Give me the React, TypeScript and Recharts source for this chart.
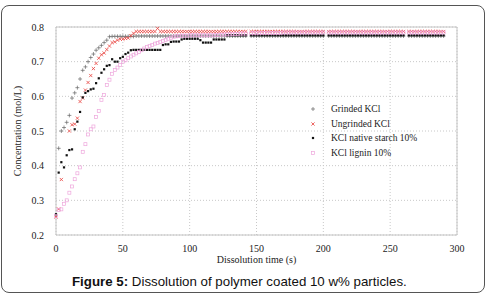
import { ScatterChart, Scatter, XAxis, YAxis, CartesianGrid, ReferenceArea, Legend } from "recharts";

// dissolution time (s), one reading every 2 s
const times = [
  0, 2, 4, 6, 8, 10, 12, 14, 16, 18,
  20, 22, 24, 26, 28, 30, 32, 34, 36, 38,
  40, 42, 44, 46, 48, 50, 52, 54, 56, 58,
  60, 62, 64, 66, 68, 70, 72, 74, 76, 78,
  80, 82, 84, 86, 88, 90, 92, 94, 96, 98,
  100, 102, 104, 106, 108, 110, 112, 114, 116, 118,
  120, 122, 124, 126, 128, 130, 132, 134, 136, 138,
  140, 142, 144, 146, 148, 150, 152, 154, 156, 158,
  160, 162, 164, 166, 168, 170, 172, 174, 176, 178,
  180, 182, 184, 186, 188, 190, 192, 194, 196, 198,
  200, 202, 204, 206, 208, 210, 212, 214, 216, 218,
  220, 222, 224, 226, 228, 230, 232, 234, 236, 238,
  240, 242, 244, 246, 248, 250, 252, 254, 256, 258,
  260, 262, 264, 266, 268, 270, 272, 274, 276, 278,
  280, 282, 284, 286, 288, 290,
];

const grindedKCl = [
  null, 0.45, 0.5, 0.51, 0.525, 0.545, 0.595, 0.61, 0.625, 0.65,
  0.675, 0.685, 0.7, 0.712, 0.722, 0.733, 0.74, 0.747, 0.755, 0.762,
  0.772, 0.773, 0.773, 0.773, 0.773, 0.773, 0.773, 0.773, 0.773, 0.773,
  0.774, 0.774, 0.774, 0.774, 0.774, 0.774, 0.774, 0.774, 0.774, 0.774,
  0.774, 0.774, 0.774, 0.774, 0.774, 0.774, 0.774, 0.774, 0.774, 0.774,
  0.774, 0.774, 0.774, 0.774, 0.774, 0.774, 0.774, 0.774, 0.774, 0.774,
  0.774, 0.774, 0.774, 0.774, 0.774, 0.774, 0.774, 0.774, 0.774, 0.774,
  0.774, 0.774, null, 0.774, 0.774, 0.774, 0.774, 0.774, 0.774, 0.774,
  0.774, 0.774, 0.774, 0.774, 0.774, 0.774, 0.774, 0.774, 0.774, 0.774,
  0.774, 0.774, 0.774, 0.774, 0.774, 0.774, 0.774, 0.774, 0.774, 0.774,
  0.774, null, 0.774, 0.774, 0.774, 0.774, 0.774, 0.774, 0.774, 0.774,
  0.774, 0.774, 0.774, 0.774, 0.774, 0.774, 0.774, 0.774, 0.774, 0.774,
  0.774, 0.774, 0.774, 0.774, 0.774, 0.774, 0.774, 0.774, 0.774, 0.774,
  0.774, null, 0.774, 0.774, 0.774, 0.774, 0.774, 0.774, 0.774, 0.774,
  0.774, 0.774, 0.774, 0.774, 0.774, 0.774,
];

const ungrindedKCl = [
  0.252, 0.275, 0.36, null, null, 0.5, 0.518, 0.52, 0.537, 0.585,
  0.595, 0.618, 0.64, 0.66, 0.68, 0.695, 0.71, 0.72, 0.725, 0.735,
  0.745, 0.755, 0.757, 0.762, 0.765, 0.765, 0.767, 0.768, 0.775, 0.782,
  0.787, 0.787, 0.787, 0.787, 0.787, 0.787, 0.787, 0.787, 0.796, 0.787,
  0.787, 0.787, 0.787, 0.787, 0.787, 0.787, 0.787, 0.787, 0.787, 0.787,
  0.787, 0.787, 0.787, 0.787, 0.787, 0.787, 0.787, 0.787, 0.787, 0.787,
  0.787, 0.787, 0.787, 0.787, 0.787, 0.787, 0.787, 0.787, 0.787, 0.787,
  0.787, 0.787, null, 0.787, 0.787, 0.787, 0.787, 0.787, 0.787, 0.787,
  0.787, 0.787, 0.787, 0.787, 0.787, 0.787, 0.787, 0.787, 0.787, 0.787,
  0.787, 0.787, 0.787, 0.787, 0.787, 0.787, 0.787, 0.787, 0.787, 0.787,
  0.787, null, 0.787, 0.787, 0.787, 0.787, 0.787, 0.787, 0.787, 0.787,
  0.787, 0.787, 0.787, 0.787, 0.787, 0.787, 0.787, 0.787, 0.787, 0.787,
  0.787, 0.787, 0.787, 0.787, 0.787, 0.787, 0.787, 0.787, 0.787, 0.787,
  0.787, null, 0.787, 0.787, 0.787, 0.787, 0.787, 0.787, 0.787, 0.787,
  0.787, 0.787, 0.787, 0.787, 0.787, 0.787,
];

const nativeStarch = [
  0.26, 0.38, 0.41, 0.395, 0.43, 0.445, 0.447, 0.505, 0.527, 0.555,
  0.597, 0.61, 0.615, 0.62, 0.622, 0.638, 0.652, 0.668, 0.678, 0.688,
  0.69, 0.707, 0.7, 0.7, 0.71, 0.714, 0.722, 0.726, 0.733, 0.734,
  0.734, 0.734, 0.734, 0.734, 0.734, 0.734, 0.734, 0.734, 0.734, 0.734,
  0.748, 0.75, 0.75, 0.757, 0.758, 0.758, 0.758, 0.764, 0.766, 0.766,
  0.766, 0.766, 0.766, 0.766, 0.762, 0.755, 0.755, 0.755, 0.755, 0.764,
  0.764, 0.764, 0.764, 0.764, 0.776, 0.776, 0.776, 0.776, 0.776, 0.776,
  0.776, 0.776, null, 0.776, 0.776, 0.776, 0.776, 0.776, 0.776, 0.776,
  0.776, 0.776, 0.776, 0.776, 0.776, 0.776, 0.776, 0.776, 0.776, 0.776,
  0.776, 0.776, 0.776, 0.776, 0.776, 0.776, 0.776, 0.776, 0.776, 0.776,
  0.776, null, 0.776, 0.776, 0.776, 0.776, 0.776, 0.776, 0.776, 0.776,
  0.776, 0.776, 0.776, 0.776, 0.776, 0.776, 0.776, 0.776, 0.776, 0.776,
  0.776, 0.776, 0.776, 0.776, 0.776, 0.776, 0.776, 0.776, 0.776, 0.776,
  0.776, null, 0.776, 0.776, 0.776, 0.776, 0.776, 0.776, 0.776, 0.776,
  0.776, 0.776, 0.776, 0.776, 0.776, 0.776,
];

const lignin = [
  0.255, 0.272, 0.274, 0.29, 0.3, 0.322, 0.34, 0.361, 0.378, 0.395,
  0.44, 0.462, 0.49, 0.505, 0.513, 0.54, 0.558, 0.59, 0.604, 0.633,
  0.648, 0.665, 0.676, 0.683, 0.69, 0.7, 0.704, 0.71, 0.715, 0.72,
  0.724, 0.728, 0.733, 0.738, 0.742, 0.745, 0.748, 0.752, 0.754, 0.757,
  0.76, 0.763, 0.766, 0.769, 0.772, 0.773, 0.774, 0.775, 0.775, 0.775,
  0.776, 0.776, 0.776, 0.776, 0.776, 0.776, 0.776, 0.776, 0.776, 0.776,
  0.777, 0.777, 0.778, 0.778, 0.779, 0.779, 0.78, 0.78, 0.78, 0.781,
  0.781, 0.781, null, 0.782, 0.782, 0.782, 0.782, 0.783, 0.783, 0.783,
  0.783, 0.783, 0.783, 0.783, 0.783, 0.784, 0.784, 0.784, 0.784, 0.784,
  0.784, 0.784, 0.784, 0.784, 0.784, 0.784, 0.784, 0.784, 0.784, 0.784,
  0.784, null, 0.784, 0.784, 0.784, 0.784, 0.784, 0.784, 0.784, 0.784,
  0.784, 0.784, 0.784, 0.784, 0.784, 0.784, 0.784, 0.784, 0.784, 0.784,
  0.784, 0.784, 0.784, 0.784, 0.784, 0.784, 0.784, 0.784, 0.784, 0.784,
  0.784, null, 0.784, 0.784, 0.784, 0.784, 0.784, 0.784, 0.784, 0.784,
  0.784, 0.784, 0.784, 0.784, 0.784, 0.784,
];

const xTicks = [0, 50, 100, 150, 200, 250, 300];
const yTicks = [0.2, 0.3, 0.4, 0.5, 0.6, 0.7, 0.8];

const GREY = "#666";
const RED = "#e8403c";
const BLACK = "#111";
const PINK = "#eea6dc";
const TEXT = "#222";

const serif = "'Liberation Serif', 'DejaVu Serif', serif";

function toPoints(values: (number | null)[]) {
  return times
    .map((t, i) => ({ t, c: values[i] }))
    .filter((p) => p.c !== null);
}

const Plus = ({ cx, cy }: any) => (
  <path d={`M${cx - 2},${cy}h4M${cx},${cy - 2}v4`} stroke={GREY} strokeWidth={0.7} fill="none" />
);
const Cross = ({ cx, cy }: any) => (
  <path d={`M${cx - 1.6},${cy - 1.6}l3.2,3.2M${cx - 1.6},${cy + 1.6}l3.2,-3.2`} stroke={RED} strokeWidth={0.8} fill="none" />
);
const Dot = ({ cx, cy }: any) => <rect x={cx - 1.1} y={cy - 1.1} width={2.2} height={2.2} fill={BLACK} />;
const Box = ({ cx, cy }: any) => (
  <rect x={cx - 1.5} y={cy - 1.5} width={3} height={3} fill="none" stroke={PINK} strokeWidth={0.7} />
);

const legendItems = [
  { name: "Grinded KCl", shape: Plus },
  { name: "Ungrinded KCl", shape: Cross },
  { name: "KCl native starch 10%", shape: Dot },
  { name: "KCl lignin 10%", shape: Box },
];

function ChartLegend() {
  return (
    <div style={{ fontFamily: serif, fontSize: 9.5, color: TEXT }}>
      {legendItems.map((item) => {
        const Shape = item.shape;
        return (
          <div key={item.name} style={{ display: "flex", alignItems: "center", height: 14.6 }}>
            <svg width={14} height={8} style={{ marginRight: 11 }}>
              <Shape cx={7} cy={4} />
            </svg>
            <span>{item.name}</span>
          </div>
        );
      })}
    </div>
  );
}

// y-axis title, drawn upright-rotated around the middle of the axis band
function YTitle({ viewBox }: any) {
  const x = viewBox.x + 17 - 6;
  const y = viewBox.y + viewBox.height / 2;
  return (
    <text
      x={x}
      y={y}
      transform={`rotate(-90 ${x} ${y})`}
      textAnchor="middle"
      dominantBaseline="central"
      fill={TEXT}
      stroke="none"
      fontSize={10}
      fontFamily={serif}
    >
      Concentration (mol/L)
    </text>
  );
}

export default function App() {
  return (
    <div style={{ position: "absolute", left: 0, top: 0, width: 489, height: 301, background: "#fff" }}>
      <div
        style={{
          position: "absolute",
          left: 1,
          top: 5,
          width: 482,
          height: 286,
          border: "1.5px solid #555",
          borderRadius: 8,
        }}
      />
      <div style={{ position: "absolute", left: 0, top: 0 }}>
        <ScatterChart width={489} height={301} margin={{ top: 27, right: 32, bottom: 36, left: 6 }}>
          <CartesianGrid stroke="#c8c8c8" strokeDasharray="1 2" />
          <ReferenceArea x1={0} x2={300} y1={0.2} y2={0.8} fill="none" stroke="#c4c4c4" strokeWidth={1} ifOverflow="visible" />
          <XAxis
            type="number"
            dataKey="t"
            domain={[0, 300]}
            ticks={xTicks}
            height={30}
            axisLine={false}
            tickLine={false}
            tickMargin={4}
            tick={{ fill: TEXT, fontSize: 10, fontFamily: serif }}
            label={{
              value: "Dissolution time (s)",
              position: "insideBottom",
              offset: 2,
              fontSize: 10,
              fontFamily: serif,
              style: { fill: TEXT },
            }}
          />
          <YAxis
            type="number"
            dataKey="c"
            domain={[0.2, 0.8]}
            ticks={yTicks}
            width={50}
            axisLine={false}
            tickLine={false}
            tickMargin={6}
            tickFormatter={(v: number) => v.toFixed(1)}
            tick={{ fill: TEXT, fontSize: 10, fontFamily: serif }}
            label={{ value: "Concentration (mol/L)", content: YTitle }}
          />
          <Legend
            layout="vertical"
            verticalAlign="middle"
            align="center"
            wrapperStyle={{ left: 306, top: 102, width: 150 }}
            content={() => <ChartLegend />}
          />
          <Scatter name="Grinded KCl" data={toPoints(grindedKCl)} shape={Plus} isAnimationActive={false} />
          <Scatter name="Ungrinded KCl" data={toPoints(ungrindedKCl)} shape={Cross} isAnimationActive={false} />
          <Scatter name="KCl native starch 10%" data={toPoints(nativeStarch)} shape={Dot} isAnimationActive={false} />
          <Scatter name="KCl lignin 10%" data={toPoints(lignin)} shape={Box} isAnimationActive={false} />
        </ScatterChart>
      </div>
      <div
        style={{
          position: "absolute",
          left: 72,
          top: 273,
          lineHeight: "17px",
          fontFamily: "'Liberation Sans', Arial, sans-serif",
          fontSize: 13.3,
          color: "#111",
          whiteSpace: "nowrap",
        }}
      >
        <b>Figure 5:</b> Dissolution of polymer coated 10 w% particles.
      </div>
    </div>
  );
}
